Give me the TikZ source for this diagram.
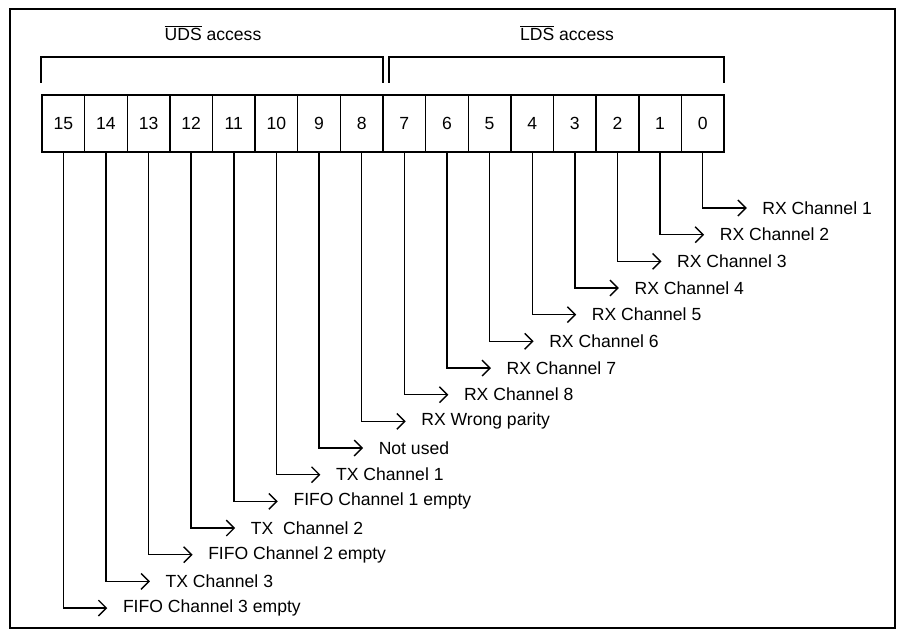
\documentclass[tikz,border=0pt]{standalone}
\usepackage{fontspec}
\setmainfont{Liberation Sans}
\usetikzlibrary{arrows.meta}
\usetikzlibrary{positioning}

\begin{document}
\begin{tikzpicture}[x=0.02cm,y=-0.02cm,line width=0.8pt,
  font=\fontsize{10}{12}\selectfont,
  cell/.style={draw,minimum width=0.8526cm,minimum height=1.14cm,inner sep=0pt},
  bitlbl/.style={inner sep=0pt},
  lead/.style={-{Straight Barb[length=4.5pt,width=9pt]}}]
\useasboundingbox (0,0) rectangle (898,635);
% Outer frame
\draw (10,9) rectangle (895,628);

% Access brackets
\draw (41,83) -- (41,57) -- (383,57) -- (383,83);
\draw (389,83) -- (389,57) -- (724,57) -- (724,83);
\node (uds) at (213,33) {$\overline{\hbox{UDS}}$ access};
\node (lds) at (567,33) {$\overline{\hbox{LDS}}$ access};

% Register bits
\foreach \i in {0,...,15}
  \node[cell] (b\i) at ({63.3+(15-\i)*42.63},123.5) {\i};

% Bit meanings
\foreach \i/\txt in {0/RX Channel 1,1/RX Channel 2,2/RX Channel 3,3/RX Channel 4,
    4/RX Channel 5,5/RX Channel 6,6/RX Channel 7,7/RX Channel 8,
    8/RX Wrong parity,9/Not used,10/TX Channel 1,11/FIFO Channel 1 empty,
    12/TX\ \ Channel 2,13/FIFO Channel 2 empty,14/TX Channel 3,15/FIFO Channel 3 empty} {
  \coordinate (t\i) at ({107.3+(15-\i)*42.63},{208+\i*26.67});
  \draw[lead] (b\i.south) |- (t\i);
  \node[bitlbl,right=0.3cm of t\i] (l\i) {\txt};
}
\end{tikzpicture}
\end{document}
